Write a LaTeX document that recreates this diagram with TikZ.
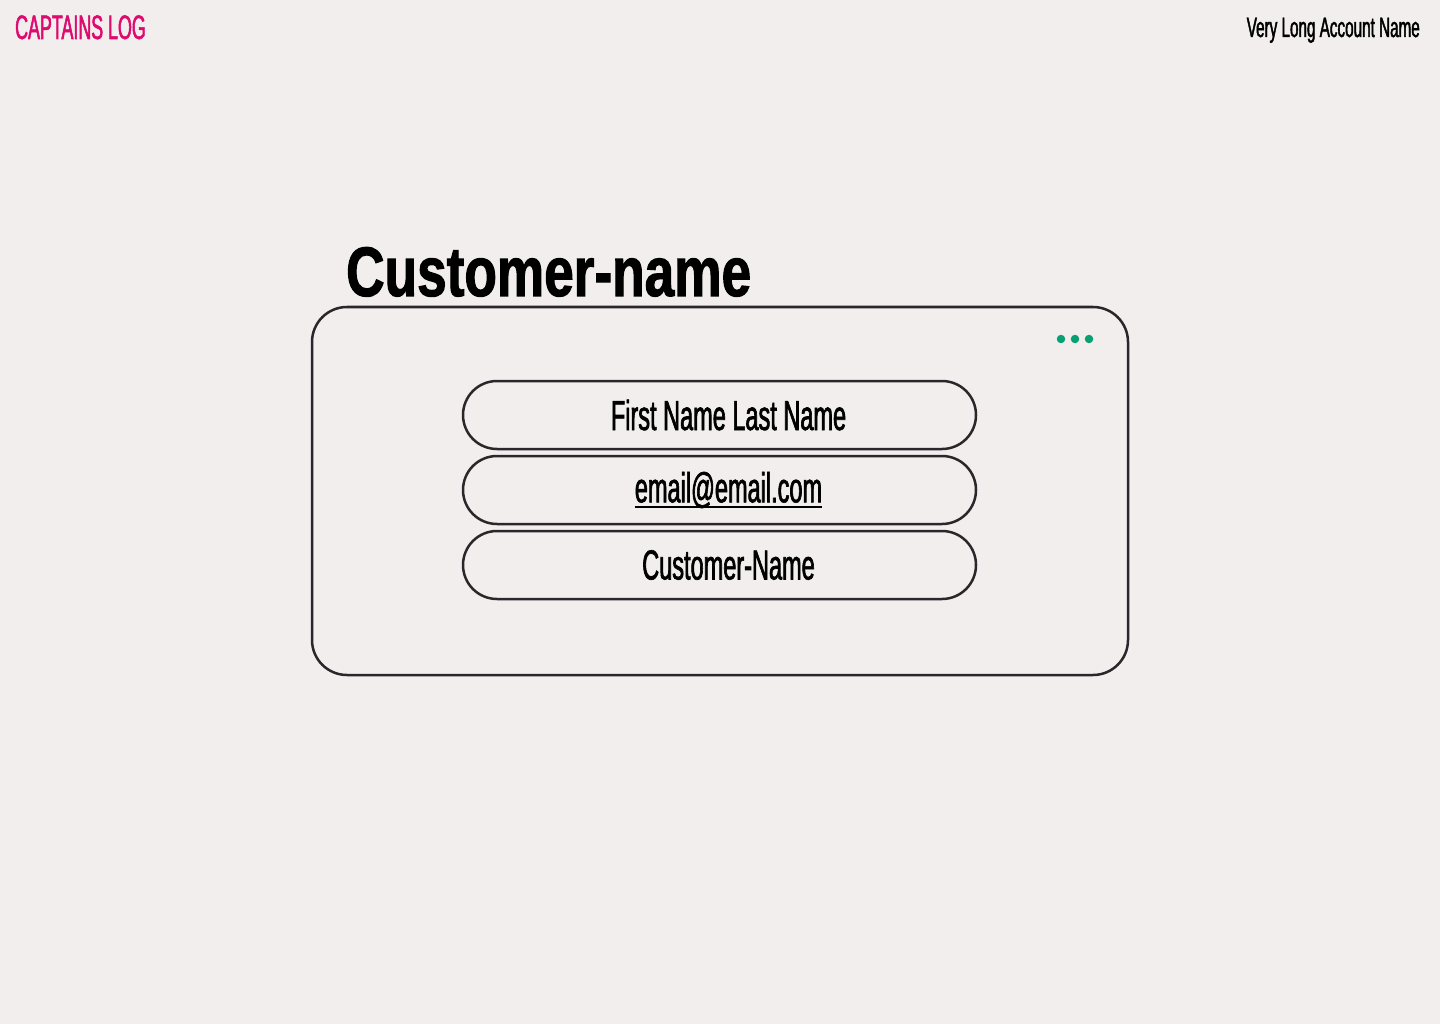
\documentclass[tikz,border=0pt]{standalone}
\usepackage{fontspec}
\setmainfont{Liberation Sans}
\newfontfamily\logofont[FakeStretch=0.525,FakeBold=1.5]{Liberation Sans}
\newfontfamily\narrowfont[FakeStretch=0.545,FakeBold=1.5]{Liberation Sans}
\newfontfamily\fieldfont[FakeStretch=0.56,FakeBold=1.5]{Liberation Sans}
\newfontfamily\headfont[FakeStretch=0.76,FakeBold=1.5]{Liberation Sans}
\definecolor{bgpaper}{HTML}{F1EEED}
\definecolor{inkline}{HTML}{2B262B}
\definecolor{logopink}{HTML}{DE0A6E}
\definecolor{dotgreen}{HTML}{06A072}
\newcommand{\mailline}[1]{\setbox0\hbox{#1}\rlap{\smash{\raisebox{-6pt}{\rule{\wd0}{2pt}}}}\box0}

\begin{document}
\begin{tikzpicture}[x=1pt,y=-1pt,
	field/.style={draw=inkline,line width=2.5pt,rectangle,rounded corners=34pt,minimum width=513pt,minimum height=68pt,inner sep=0pt,font=\fieldfont\fontsize{42}{42}\selectfont},
	dot/.style={circle,fill=dotgreen,inner sep=0pt,minimum size=8.5pt}]
		% Background
		\fill[bgpaper] (0,0) rectangle (1440,1024);
		\useasboundingbox (0,0) rectangle (1440,1024);
		
		% Header
		\node[anchor=base west,text=logopink,inner sep=0pt,font=\logofont\fontsize{34}{34}\selectfont] (logo) at (15,39) {CAPTAINS LOG};
		\node[anchor=base east,inner sep=0pt,font=\narrowfont\fontsize{28}{28}\selectfont] (account) at (1420,37) {Very Long Account Name};
		
		% Card
		\node[anchor=base west,inner sep=0pt,font=\headfont\bfseries\fontsize{70}{70}\selectfont] (title) at (346,296) {Customer-name};
		\draw[inkline,line width=2.5pt,rounded corners=35pt] (312,307) rectangle (1128,675);
		\foreach \i/\x in {1/1061,2/1075,3/1089}
			\node[dot] (dot\i) at (\x,339) {};
		
		% Fields
		\node[field] (fullname) at (719.5,415) {\hspace{18pt}First Name Last Name};
		\node[field] (email) at (719.5,490) {\hspace{18pt}\mailline{email@email.com}};
		\node[field] (customer) at (719.5,565) {\hspace{18pt}Customer-Name};
		
	\end{tikzpicture}
\end{document}
